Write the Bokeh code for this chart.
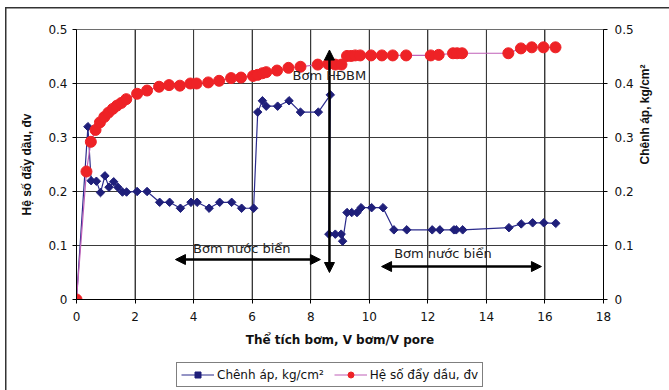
import math
from bokeh.plotting import figure
from bokeh.layouts import column
from bokeh.models import (Range1d, LinearAxis, FixedTicker, Legend, LegendItem,
                          Arrow, NormalHead, Label, Span)
from bokeh.embed import file_html
from bokeh.resources import INLINE

# ---- data ----
x_dp = [0, 0.39, 0.50, 0.68, 0.82, 0.97, 1.11, 1.27, 1.41, 1.57, 1.71, 2.07, 2.41,
        2.84, 3.18, 3.55, 3.91, 4.12, 4.53, 4.89, 5.30, 5.64, 6.05, 6.19, 6.35, 6.48,
        6.87, 7.26, 7.65, 8.26, 8.67, 8.62, 8.84, 9.04, 9.09, 9.24, 9.40, 9.58, 9.72,
        10.08, 10.47, 10.84, 11.28, 12.15, 12.41, 12.89, 12.97, 13.19, 14.77, 15.19,
        15.58, 15.96, 16.37]
y_dp = [0, 0.320, 0.220, 0.219, 0.198, 0.229, 0.208, 0.218, 0.208, 0.199, 0.199, 0.200,
        0.200, 0.180, 0.180, 0.169, 0.180, 0.180, 0.169, 0.180, 0.180, 0.169, 0.169,
        0.347, 0.368, 0.358, 0.358, 0.368, 0.347, 0.347, 0.379, 0.121, 0.121, 0.121,
        0.108, 0.161, 0.161, 0.161, 0.170, 0.170, 0.170, 0.129, 0.129, 0.129, 0.129,
        0.129, 0.129, 0.129, 0.133, 0.140, 0.142, 0.142, 0.141]

x_rf = [0, 0.34, 0.49, 0.65, 0.80, 0.95, 1.09, 1.24, 1.38, 1.53, 1.70, 2.07, 2.41, 2.82,
        3.16, 3.53, 3.89, 4.10, 4.50, 4.87, 5.28, 5.62, 6.03, 6.19, 6.35, 6.48, 6.85,
        7.24, 7.65, 8.24, 8.60, 8.84, 9.05, 9.24, 9.38, 9.52, 9.69, 10.06, 10.43, 10.80,
        11.26, 12.10, 12.37, 12.86, 13.00, 13.17, 14.75, 15.18, 15.55, 15.95, 16.36]
y_rf = [0, 0.237, 0.292, 0.314, 0.328, 0.338, 0.346, 0.353, 0.359, 0.364, 0.371, 0.381,
        0.387, 0.394, 0.397, 0.396, 0.400, 0.400, 0.402, 0.405, 0.410, 0.411, 0.414,
        0.416, 0.419, 0.421, 0.424, 0.429, 0.431, 0.435, 0.436, 0.435, 0.435, 0.451,
        0.451, 0.452, 0.452, 0.452, 0.452, 0.452, 0.452, 0.452, 0.453, 0.456, 0.456,
        0.456, 0.456, 0.465, 0.467, 0.467, 0.467]

x_ticks = [0, 2, 4, 6, 8, 10, 12, 14, 16, 18]
y_ticks = [0, 0.1, 0.2, 0.3, 0.4, 0.5]
y_tick_labels = ["0", "0.1", "0.2", "0.3", "0.4", "0.5"]

label_dp = "Chênh áp, kg/cm²"
label_rf = "Hệ số đẩy dầu, đv"
x_title = "Thể tích bơm, V bơm/V pore"
y_title = "Hệ số đẩy dầu, đv"
y2_title = "Chênh áp, kg/cm²"

note_hdbm = "Bơm HĐBM"
note_sea = "Bơm nước biển"

FONT_H = "DejaVu Sans"       # horizontal texts
FONT_V = "Liberation Sans"   # rotated axis titles
DP_COLOR, DP_LINE = "#1F1F7A", "#2B2B8C"
RF_COLOR, RF_LINE = "#EE2226", "#C060B8"
GRID = "#3a3a3a"

H1 = 355            # height of chart part; legend strip below it
BL, BR = 76, 66     # left / right borders (shared by both parts of the column)

p = figure(width=669, height=H1, output_backend="svg", toolbar_location=None,
           x_range=Range1d(0, 18), y_range=Range1d(0, 0.5),
           min_border_left=BL, min_border_right=BR, min_border_top=29,
           min_border_bottom=H1 - 299)
p.extra_y_ranges = {"r": Range1d(0, 0.5)}
p.background_fill_color = None
p.border_fill_color = None
p.outline_line_color = "#666666"
# outer chart frame (top + left edge) as background behind the transparent canvas
p.styles = {"background": "linear-gradient(#333333,#333333) 5px 7px / 670px 1.5px no-repeat, "
                          "linear-gradient(#333333,#333333) 5px 7px / 1.5px 400px no-repeat, "
                          "white"}

# grids (built-in, plus span lines drawn beneath the series)
p.xgrid.ticker = FixedTicker(ticks=x_ticks)
p.ygrid.ticker = FixedTicker(ticks=y_ticks)
p.xgrid.grid_line_color = GRID
p.ygrid.grid_line_color = GRID
grid_spans = ([Span(location=v, dimension="height", line_color=GRID, line_width=1,
                    level="glyph") for v in x_ticks[1:-1]] +
              [Span(location=v, dimension="width", line_color=GRID, line_width=1,
                    level="glyph") for v in y_ticks[1:-1]] +
              [Span(location=y_ticks[-1], dimension="width", line_color="#777777",
                    line_width=1, level="glyph")])

overrides = {v: s for v, s in zip(y_ticks, y_tick_labels)}

def style_axis(ax):
    ax.axis_line_color = "black"
    ax.major_tick_line_color = "black"
    ax.minor_tick_line_color = None
    ax.major_tick_out = 4
    ax.major_tick_in = 0
    ax.major_label_text_font = FONT_H
    ax.major_label_text_font_size = "12px"
    ax.major_label_text_color = "#111111"
    ax.axis_label_text_font = FONT_V
    ax.axis_label_text_font_size = "12px"
    ax.axis_label_text_font_style = "bold"
    ax.axis_label_text_color = "#111111"

xa = p.xaxis[0]
xa.ticker = FixedTicker(ticks=x_ticks)
xa.axis_label = x_title
style_axis(xa)
xa.axis_label_text_font = FONT_H
xa.major_label_standoff = 8
xa.axis_label_standoff = 9

ya = p.yaxis[0]
ya.ticker = FixedTicker(ticks=y_ticks)
ya.major_label_overrides = overrides
ya.axis_label = y_title
style_axis(ya)
ya.major_label_standoff = 5
ya.axis_label_standoff = 11

ra = LinearAxis(y_range_name="r", ticker=FixedTicker(ticks=y_ticks),
                major_label_overrides=overrides, axis_label=y2_title)
style_axis(ra)
ra.major_label_standoff = 7
ra.axis_label_standoff = 8
ra.axis_label_orientation = math.pi / 2
p.add_layout(ra, "right")

# series
p.line(x_dp, y_dp, line_color=DP_LINE, line_width=1.2, y_range_name="r")
p.scatter(x_dp, y_dp, marker="square", angle=math.pi / 4, size=6,
          fill_color=DP_COLOR, line_color=DP_COLOR, y_range_name="r")
p.line(x_rf, y_rf, line_color=RF_LINE, line_width=1.2)
p.scatter(x_rf, y_rf, marker="circle", size=11, fill_color=RF_COLOR, line_color=RF_COLOR)
p.renderers = grid_spans + list(p.renderers)

# annotations
ARROW_V = (8.64, 0.462, 8.64, 0.05)
ARROW_L = (3.38, 0.074, 8.33, 0.074)
ARROW_R = (10.42, 0.061, 15.88, 0.061)
for (xs, ys, xe, ye) in (ARROW_V, ARROW_L, ARROW_R):
    p.add_layout(Arrow(x_start=xs, y_start=ys, x_end=xe, y_end=ye,
                       line_color="black", line_width=2.5,
                       start=NormalHead(size=10, fill_color="black", line_color="black"),
                       end=NormalHead(size=10, fill_color="black", line_color="black")))

for (tx, ty, txt) in ((7.38, 0.415, note_hdbm), (3.98, 0.094, note_sea),
                      (10.85, 0.085, note_sea)):
    p.add_layout(Label(x=tx, y=ty, text=txt, text_font=FONT_H, text_font_size="13px",
                       text_color="#222222", text_baseline="middle"))

# ---- legend strip ----
q = figure(width=669, height=390 - H1, output_backend="svg", toolbar_location=None,
           x_range=Range1d(0, 1), y_range=Range1d(0, 1),
           min_border_left=BL, min_border_right=BR, min_border_top=0,
           min_border_bottom=0, x_axis_type=None, y_axis_type=None)
q.xgrid.visible = False
q.ygrid.visible = False
q.outline_line_color = None
q.background_fill_color = None
q.border_fill_color = None
q.styles = {"background": "linear-gradient(#333333,#333333) 5px 0px / 1.5px 100px no-repeat, "
                          "white"}
# legend-only renderers (single points placed outside the visible range)
k1 = q.line([-5, -4], [-5, -5], line_color=DP_LINE, line_width=1.2)
k2 = q.scatter([-5], [-5], marker="square", angle=math.pi / 4, size=6,
               fill_color=DP_COLOR, line_color=DP_COLOR)
k3 = q.line([-5, -4], [-5, -5], line_color=RF_LINE, line_width=1.2)
k4 = q.scatter([-5], [-5], marker="circle", size=11, fill_color=RF_COLOR, line_color=RF_COLOR)

legend = Legend(items=[LegendItem(label=label_dp, renderers=[k1, k2]),
                       LegendItem(label=label_rf, renderers=[k3, k4])],
                orientation="horizontal", location=(181 - BL - 5, 3),
                label_text_font=FONT_H, label_text_font_size="12px",
                label_text_color="#111111",
                border_line_color="black", border_line_width=1,
                background_fill_color="white", background_fill_alpha=1,
                padding=4, spacing=10, margin=0, glyph_width=33, glyph_height=15,
                label_height=15, label_standoff=3)
q.add_layout(legend, "center")

layout = column(p, q, spacing=0)
open("out.html", "w").write(file_html(layout, INLINE))
